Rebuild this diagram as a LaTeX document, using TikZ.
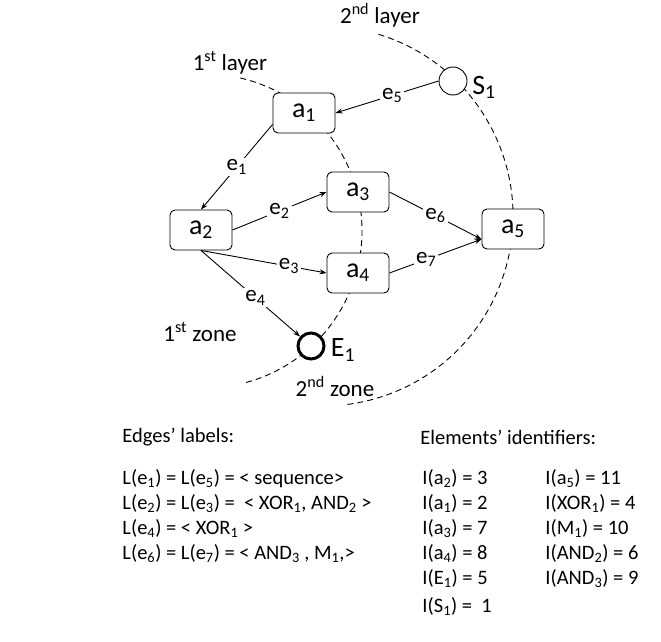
\documentclass[tikz,border=0pt]{standalone}
\usepackage{fontspec}
\setmainfont{Carlito}
\usetikzlibrary{arrows.meta}

\begin{document}
\begin{tikzpicture}[x=1pt, y=-1pt, line width=0.9pt,
  act/.style={draw, rounded corners=5pt, minimum width=62pt, minimum height=40pt,
    inner sep=0pt, fill=white, font=\fontsize{28}{30}\selectfont},
  evt/.style={draw, circle, minimum size=28pt, inner sep=0pt, fill=white},
  big/.style={font=\fontsize{28}{30}\selectfont},
  lbl/.style={fill=white, inner sep=2pt, font=\fontsize{23}{25}\selectfont},
  zone/.style={font=\fontsize{23}{25}\selectfont},
  layer/.style={dash pattern=on 6pt off 4pt},
  txt/.style={font=\fontsize{20.5}{25}\selectfont, align=left, inner sep=0pt},
  >={Stealth[length=7pt,width=5pt]}]
\useasboundingbox (0,0) rectangle (661,642);

%the layers
\draw [layer] (205,231) ++(-77:157) arc [start angle=-77, end angle=75, radius=157];
\draw [layer] (323,216) ++(-73:190) arc [start angle=-73, end angle=83, radius=190];

%the activities
\node [act] (a1) at (304,113) {a\textsubscript{1}};
\node [act] (a2) at (201,230) {a\textsubscript{2}};
\node [act] (a3) at (358,192) {a\textsubscript{3}};
\node [act] (a4) at (358,273) {a\textsubscript{4}};
\node [act] (a5) at (513,229) {a\textsubscript{5}};

%start and end
\node [evt] (S1) at (453,81) {};
\node [evt, line width=3pt, minimum size=26pt] (E1) at (311,346) {};
\node [big] (S1lbl) at (484,87) {S\textsubscript{1}};
\node [big] (E1lbl) at (343,350) {E\textsubscript{1}};

%the edges
\draw [->] (S1.west) -- node [lbl, pos=0.45] {e\textsubscript{5}} (a1.east);
\draw [->] (a1.200) -- node [lbl] {e\textsubscript{1}} (a2.north);
\draw [->] (a2.east) -- node [lbl] {e\textsubscript{2}} (a3.west);
\draw [->] (a2.south) -- node [lbl, pos=0.7] {e\textsubscript{3}} (a4.west);
\draw [->] (a2.south) -- node [lbl, pos=0.55] {e\textsubscript{4}} (E1);
\draw [->] (a3.east) -- node [lbl] {e\textsubscript{6}} (a5.198);
\draw [->] (a4.east) -- node [lbl, pos=0.4] {e\textsubscript{7}} (a5.198);

%layer and zone names
\node [zone] (lay1) at (230,63) {1\textsuperscript{st} layer};
\node [zone] (lay2) at (380,15) {2\textsuperscript{nd} layer};
\node [zone] (zon1) at (200,332) {1\textsuperscript{st} zone};
\node [zone] (zon2) at (335,386) {2\textsuperscript{nd} zone};

%the lists
\node [txt, anchor=west] (edges) at (122,437) {Edges’ labels:};
\node [txt, anchor=north west] (edgelist) at (122,469) {%
L(e\textsubscript{1}) = L(e\textsubscript{5}) = < sequence>\\
L(e\textsubscript{2}) = L(e\textsubscript{3}) =\ \ < XOR\textsubscript{1}, AND\textsubscript{2} >\\
L(e\textsubscript{4}) = < XOR\textsubscript{1} >\\
L(e\textsubscript{6}) = L(e\textsubscript{7}) = < AND\textsubscript{3} , M\textsubscript{1},>};

\node [txt, anchor=west] (elems) at (420,437) {Elements’ identifiers:};
\node [txt, anchor=north west] (idsA) at (422,469) {%
I(a\textsubscript{2}) = 3\\
I(a\textsubscript{1}) = 2\\
I(a\textsubscript{3}) = 7\\
I(a\textsubscript{4}) = 8\\
I(E\textsubscript{1}) = 5\\[3pt]
I(S\textsubscript{1}) =\ \ 1};
\node [txt, anchor=north west] (idsB) at (545,469) {%
I(a\textsubscript{5}) = 11\\
I(XOR\textsubscript{1}) = 4\\
I(M\textsubscript{1}) = 10\\
I(AND\textsubscript{2}) = 6\\
I(AND\textsubscript{3}) = 9};
\end{tikzpicture}
\end{document}
